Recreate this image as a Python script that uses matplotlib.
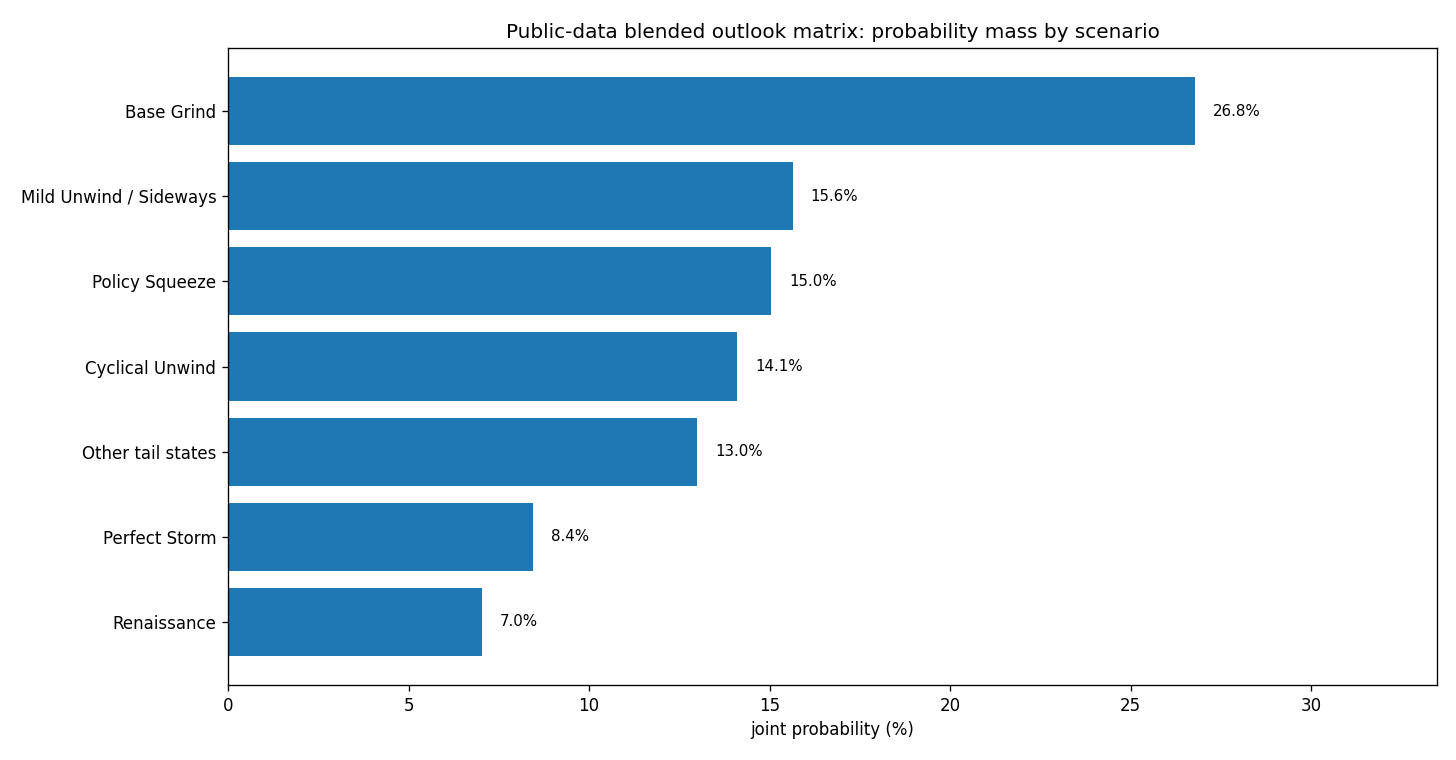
import matplotlib
matplotlib.use("Agg")
import matplotlib.pyplot as plt

scenarios = ["Base Grind", "Mild Unwind / Sideways", "Policy Squeeze", "Cyclical Unwind",
             "Other tail states", "Perfect Storm", "Renaissance"]
probs = [26.79, 15.64, 15.04, 14.1, 12.99, 8.44, 7.03]

fig, ax = plt.subplots(figsize=(1456 / 120, 760 / 120), dpi=120)
ax.barh(scenarios[::-1], probs[::-1], color="#1f77b4")
for y, v in enumerate(probs[::-1]):
    ax.text(v + 0.5, y, f"{v:.1f}%", va="center", fontsize=9)

ax.set_xlim(0, max(probs) * 1.25)
ax.set_xlabel("joint probability (%)")
ax.set_title("Public-data blended outlook matrix: probability mass by scenario")
fig.subplots_adjust(left=0.1566, right=0.987, top=0.9368, bottom=0.0987)
fig.savefig("out.png")
